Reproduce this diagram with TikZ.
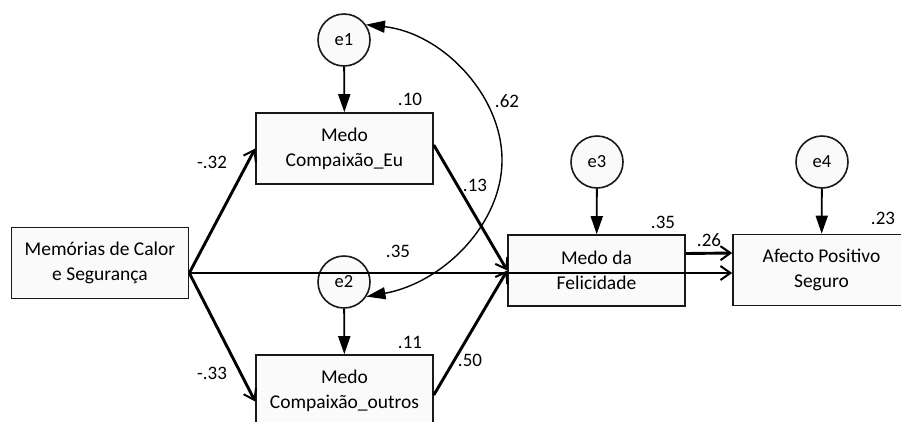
\documentclass[tikz,border=0pt]{standalone}
\usepackage{fontspec}
\setmainfont{Carlito}
\usetikzlibrary{arrows.meta,positioning}

\begin{document}
\begin{tikzpicture}[x=1pt,y=-1pt,
  var/.style={draw=black!90,line width=1.6pt,fill=black!2,minimum width=177pt,minimum height=71pt,align=center,inner sep=0pt,font=\fontsize{19.5}{25}\selectfont},
  err/.style={circle,draw=black!90,line width=1.6pt,fill=black!2,minimum size=52pt,inner sep=0pt,font=\fontsize{18.5}{20}\selectfont},
  coef/.style={inner sep=0pt,font=\fontsize{19}{20}\selectfont},
  eff/.style={line width=2.9pt,-{Straight Barb[length=10pt,width=14pt,line width=2pt]}},
  res/.style={line width=1.8pt,-{Triangle[length=18pt,width=12pt]}},
  cov/.style={line width=1.4pt,{Triangle[length=19pt,width=12pt]}-{Triangle[length=19pt,width=12pt]}}]
\useasboundingbox (0,0) rectangle (901,421);
% boxes
\node[var] (mem) at (100,263) {Memórias de Calor\\e Segurança};
\node[var] (eu) at (344.5,148.5) {Medo\\Compaixão\_Eu};
\node[var] (outros) at (344.5,390.5) {Medo\\Compaixão\_outros};
\node[var] (fel) at (596.5,270.5) {Medo da\\Felicidade};
\node[var] (afecto) at (821.5,270) {Afecto Positivo\\Seguro};
% residuals
\node[err] (e1) at (344,40) {e1};
\node[err] (e2) at (344,282) {e2};
\node[err] (e3) at (597,162) {e3};
\node[err] (e4) at (822,162) {e4};
\draw[res] (e1) -- (eu);
\draw[res] (e2) -- (outros);
\draw[res] (e3) -- (fel);
\draw[res] (e4) -- (afecto);
% paths
\coordinate (memout) at ([yshift=-10pt]mem.east);
\coordinate (afin) at (afecto.west |- memout);
\draw[eff] (memout) -- (eu.west);
\draw[eff] (memout) -- ([yshift=-11pt]outros.west);
\draw[eff] (memout) -- (afin);
\draw[eff] ([yshift=3.5pt]eu.east) -- (fel.west);
\draw[eff] ([yshift=-4.5pt]outros.east) -- (fel.west);
\draw[eff] ([yshift=17pt]fel.east) -- ([yshift=17pt]afecto.west);
% covariance
\coordinate (covmid) at (502,160);
\draw[cov] (e1.35) .. controls (442,33) and (502,95) .. (covmid)
  .. controls (502,225) and (442,283) .. (e2.-33);
% coefficients
\node[coef] (c32) at (212,162) {-.32};
\node[coef] (c33) at (212,373) {-.33};
\node[coef] (r10) at (410,99) {.10};
\node[coef] (r11) at (410,342) {.11};
\node[coef] (c35) at (398,251) {.35};
\node[coef] (c62) at (507,101) {.62};
\node[coef] (c13) at (475,185) {.13};
\node[coef] (c50) at (470,360) {.50};
\node[coef] (r35) at (663,222) {.35};
\node[coef] (c26) at (709,240) {.26};
\node[coef] (r23) at (883,218) {.23};
\end{tikzpicture}
\end{document}
